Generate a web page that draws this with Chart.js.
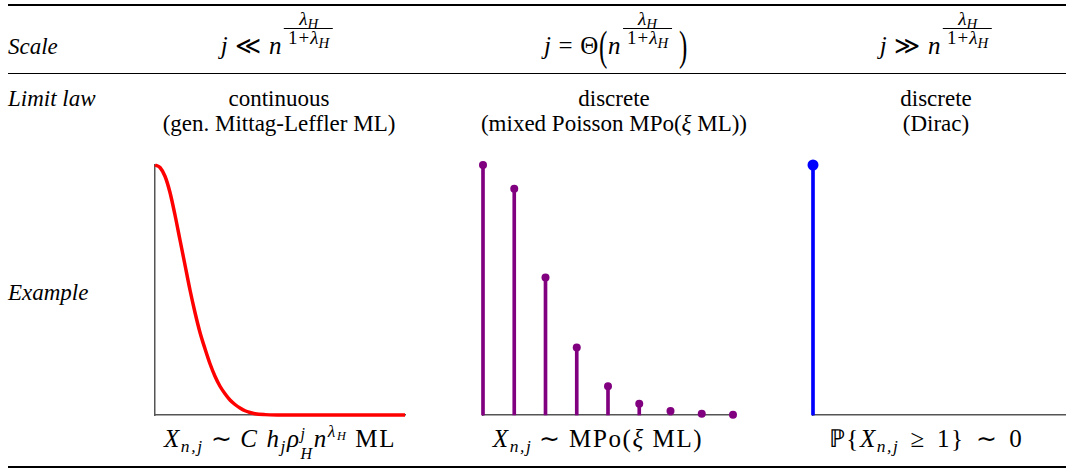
<!DOCTYPE html>
<html>
<head>
<meta charset="utf-8">
<script src="https://cdn.jsdelivr.net/npm/chart.js@4"></script>
<style>
body { margin: 0; background: #fff; width: 1074px; height: 473px; overflow: hidden; position: relative;
       font-family: "Liberation Serif", serif; font-size: 23px; color: #000; }
.rule { position: absolute; left: 8px; width: 1058px; background: #000; }
.t { position: absolute; white-space: nowrap; line-height: 1; }
.m { font-size: 25px; letter-spacing: 0.6px; }
.b { letter-spacing: 1.6px; }
.c { transform: translateX(-50%); }
i { font-style: italic; }
.r { margin: 0 7px; }
.rw { margin: 0 11px; }
sub { font-size: 70%; vertical-align: -0.28em; line-height: 0; }
sup { font-size: 70%; vertical-align: 0.55em; line-height: 0; }
.frac { display: inline-block; vertical-align: 10px; font-size: 19px; text-align: center; line-height: 18px; margin-left: 2px; letter-spacing: 0; }
.frac > span { display: block; padding: 0 4px; }
.frac > .den { border-top: 1px solid #000; }
.frac sub { font-size: 78%; }
.pl { margin: 0 1px; }
.big { display: inline-block; transform: scaleY(1.65); }
.ss { display: inline-block; vertical-align: -12px; font-size: 16px; line-height: 20px; }
.ss > i { display: block; }
canvas { position: absolute; }
</style>
</head>
<body>
<div class="rule" style="top:4px;height:2px"></div>
<div class="rule" style="top:73px;height:1px"></div>
<div class="rule" style="top:466px;height:2px"></div>

<div class="t" style="left:8px;top:35px"><i>Scale</i></div>
<div class="t" style="left:8px;top:87px"><i>Limit law</i></div>
<div class="t" style="left:8px;top:281px"><i>Example</i></div>

<div class="t m c" style="left:277px;top:10px"><i>j</i><span class="r">≪</span><i>n</i><span class="frac"><span><i>λ</i><sub><i>H</i></sub></span><span class="den">1<span class="pl">+</span><i>λ</i><sub><i>H</i></sub></span></span></div>
<div class="t m c" style="left:616px;top:10px"><i>j</i><span class="r">=</span>Θ<span class="big">(</span><i>n</i><span class="frac"><span><i>λ</i><sub><i>H</i></sub></span><span class="den">1<span class="pl">+</span><i>λ</i><sub><i>H</i></sub></span></span> <span class="big">)</span></div>
<div class="t m c" style="left:936px;top:10px"><i>j</i><span class="r">≫</span><i>n</i><span class="frac"><span><i>λ</i><sub><i>H</i></sub></span><span class="den">1<span class="pl">+</span><i>λ</i><sub><i>H</i></sub></span></span></div>

<div class="t c" style="left:279px;top:87px">continuous</div>
<div class="t c" style="left:279px;top:112px">(gen. Mittag-Leffler ML)</div>
<div class="t c" style="left:614px;top:87px">discrete</div>
<div class="t c" style="left:614px;top:112px">(mixed Poisson MPo(<i>ξ</i> ML))</div>
<div class="t c" style="left:936px;top:87px">discrete</div>
<div class="t c" style="left:936px;top:112px">(Dirac)</div>

<div class="t m b c" style="left:280px;top:424px"><i>X</i><sub><i>n,j</i></sub><span class="r">∼</span><i>C</i> <i>h</i><sub><i>j</i></sub><i>ρ</i><span class="ss"><i>j</i><i>H</i></span><i>n</i><sup><i>λ</i><sub><i>H</i></sub></sup> ML</div>
<div class="t m b c" style="left:598px;top:426px"><i>X</i><sub><i>n,j</i></sub><span class="r">∼</span>MPo(<i>ξ</i> ML)</div>
<div class="t m b c" style="left:926px;top:426px">ℙ{<i>X</i><sub><i>n,j</i></sub><span class="rw">≥</span>1}<span class="rw">∼</span>0</div>

<canvas id="mlChart" width="280" height="280" style="left:140px;top:150px"></canvas>
<canvas id="mpoChart" width="280" height="280" style="left:468px;top:150px"></canvas>
<canvas id="diracChart" width="273" height="280" style="left:798px;top:150px"></canvas>

<script>
// Generalized Mittag-Leffler density
const mlX = [0, 0.1, 0.2, 0.3, 0.4, 0.5, 0.6, 0.7, 0.8, 0.9, 1.0, 1.1, 1.2, 1.3, 1.4, 1.5, 1.6, 1.7, 1.8, 1.9, 2.0, 2.2, 2.5, 3.0, 4.0, 5.0];
const mlY = [1.0, 0.99, 0.955, 0.89, 0.8, 0.7, 0.6, 0.5, 0.41, 0.33, 0.265, 0.205, 0.155, 0.115, 0.085, 0.06, 0.042, 0.028, 0.017, 0.01, 0.005, 0.0015, 0.0003, 0, 0, 0];

// Mixed Poisson probabilities
const mpoK = [0, 1, 2, 3, 4, 5, 6, 7, 8];
const mpoP = [1.0, 0.905, 0.55, 0.27, 0.115, 0.045, 0.016, 0.005, 0.001];

// Dirac mass at 0
const diracK = [0];
const diracP = [1];

const axisColor = '#555';

function baseOptions(xMax, padRight) {
    return {
        responsive: false,
        animation: false,
        devicePixelRatio: 1,
        layout: { padding: { left: 15, right: padRight, top: 15, bottom: 15 } },
        plugins: { legend: { display: false }, tooltip: { enabled: false } },
        scales: {
            x: {
                type: 'linear', min: 0, max: xMax, offset: false,
                grid: { display: false, drawTicks: false }, ticks: { display: false },
                border: { color: axisColor, width: 1.5 }
            },
            y: {
                min: 0, max: 1,
                grid: { display: false, drawTicks: false }, ticks: { display: false },
                border: { color: axisColor, width: 1.5 }
            }
        }
    };
}

function toPoints(xs, ys) {
    return xs.map((x, i) => ({ x: x, y: ys[i] }));
}

function stemChart(id, xs, ys, color, radius, xMax, padRight) {
    const pts = toPoints(xs, ys);
    new Chart(document.getElementById(id), {
        type: 'bar',
        data: {
            datasets: [
                {
                    type: 'line', data: pts, showLine: false, order: 0, clip: false,
                    pointRadius: radius, pointBackgroundColor: color, pointBorderWidth: 0
                },
                {
                    type: 'bar', data: pts, order: 1, clip: false,
                    backgroundColor: color, borderWidth: 0, barThickness: 3
                }
            ]
        },
        options: baseOptions(xMax, padRight)
    });
}

new Chart(document.getElementById('mlChart'), {
    type: 'line',
    data: {
        datasets: [{
            data: toPoints(mlX, mlY),
            borderColor: '#ff0000',
            borderWidth: 3.5,
            pointRadius: 0,
            cubicInterpolationMode: 'monotone',
            clip: false
        }]
    },
    options: baseOptions(5, 15)
});

stemChart('mpoChart', mpoK, mpoP, '#800080', 4, 8, 15);
stemChart('diracChart', diracK, diracP, '#0000ff', 5.5, 8, 5);
</script>
</body>
</html>
